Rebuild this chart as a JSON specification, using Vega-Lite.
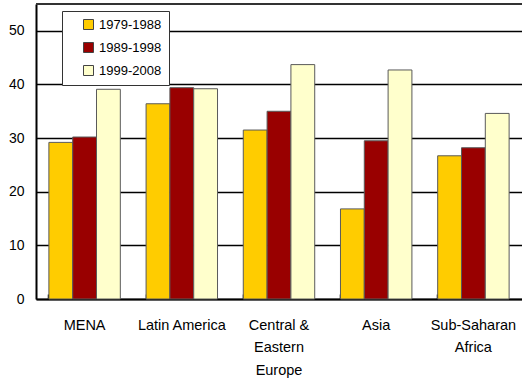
{
  "$schema": "https://vega.github.io/schema/vega-lite/v6.json",
  "autosize": "none",
  "padding": {"left": 36, "top": 4, "right": 0, "bottom": 84},
  "width": 486,
  "height": 295,
  "background": "white",
  "config": {
    "font": "Liberation Sans",
    "view": {"stroke": null}
  },
  "data": {
    "values": [
      {"region": "MENA", "period": "1979-1988", "value": 29.2},
      {"region": "MENA", "period": "1989-1998", "value": 30.2},
      {"region": "MENA", "period": "1999-2008", "value": 39.1},
      {"region": "Latin America", "period": "1979-1988", "value": 36.4},
      {"region": "Latin America", "period": "1989-1998", "value": 39.4},
      {"region": "Latin America", "period": "1999-2008", "value": 39.2},
      {"region": "Central & Eastern Europe", "period": "1979-1988", "value": 31.5},
      {"region": "Central & Eastern Europe", "period": "1989-1998", "value": 35.0},
      {"region": "Central & Eastern Europe", "period": "1999-2008", "value": 43.7},
      {"region": "Asia", "period": "1979-1988", "value": 16.8},
      {"region": "Asia", "period": "1989-1998", "value": 29.5},
      {"region": "Asia", "period": "1999-2008", "value": 42.7},
      {"region": "Sub-Saharan Africa", "period": "1979-1988", "value": 26.7},
      {"region": "Sub-Saharan Africa", "period": "1989-1998", "value": 28.2},
      {"region": "Sub-Saharan Africa", "period": "1999-2008", "value": 34.6}
    ]
  },
  "layer": [
    {
      "mark": {"type": "bar", "stroke": "#5a5a5a", "strokeWidth": 1},
      "encoding": {
        "x": {
          "field": "region",
          "type": "nominal",
          "sort": null,
          "title": null,
          "scale": {"paddingInner": 0.265, "paddingOuter": 0.1325},
          "axis": {
            "bandPosition": 0,
            "labelAngle": 0,
            "labelFontSize": 14.5,
            "labelColor": "black",
            "labelPadding": 24,
            "labelLineHeight": 22.5,
            "labelBaseline": "top",
            "labelExpr": "datum.value == 'Central & Eastern Europe' ? ['Central &', 'Eastern', 'Europe'] : datum.value == 'Sub-Saharan Africa' ? ['Sub-Saharan', 'Africa'] : datum.label",
            "domainColor": "black",
            "domainWidth": 2,
            "tickColor": "black",
            "tickWidth": 1.5,
            "tickSize": -5,
            "grid": false
          }
        },
        "xOffset": {
          "field": "period",
          "type": "nominal",
          "scale": {"paddingInner": 0, "paddingOuter": 0}
        },
        "y": {
          "field": "value",
          "type": "quantitative",
          "title": null,
          "scale": {"domain": [0, 55], "nice": false},
          "axis": {
            "values": [0, 10, 20, 30, 40, 50],
            "labelFontSize": 14,
            "labelColor": "black",
            "labelPadding": 12,
            "ticks": false,
            "domainColor": "black",
            "domainWidth": 2,
            "grid": true,
            "gridColor": "black",
            "gridWidth": 1.6
          }
        },
        "color": {
          "field": "period",
          "type": "nominal",
          "scale": {
            "domain": ["1979-1988", "1989-1998", "1999-2008"],
            "range": ["#FFCC00", "#990000", "#FFFFCC"]
          },
          "legend": {
            "title": null,
            "orient": "none",
            "legendX": 26,
            "legendY": 7,
            "padding": 7,
            "fillColor": "white",
            "strokeColor": "#333333",
            "symbolType": "square",
            "symbolSize": 100,
            "symbolStrokeColor": "#444444",
            "symbolStrokeWidth": 1,
            "symbolOpacity": 1,
            "symbolOffset": 13,
            "labelFontSize": 13,
            "labelColor": "black",
            "labelOffset": 4,
            "labelExpr": "datum.label + '          '",
            "rowPadding": 8
          }
        }
      }
    },
    {
      "mark": {"type": "rule", "color": "#333333", "strokeWidth": 2},
      "encoding": {"y": {"datum": 55}}
    }
  ]
}
